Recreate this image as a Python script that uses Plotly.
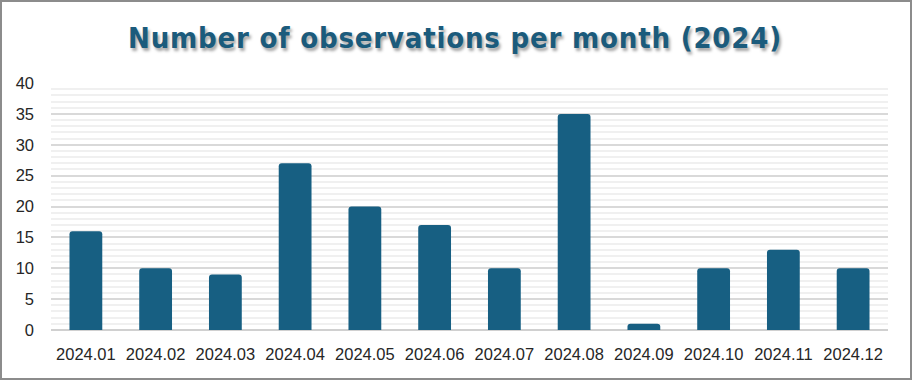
import plotly.graph_objects as go

months = ["2024.01", "2024.02", "2024.03", "2024.04", "2024.05", "2024.06",
          "2024.07", "2024.08", "2024.09", "2024.10", "2024.11", "2024.12"]
observations = [16, 10, 9, 27, 20, 17, 10, 35, 1, 10, 13, 10]
y_ticks = [0, 5, 10, 15, 20, 25, 30, 35, 40]

W, H = 912, 380
ml, mr, mt, mb = 51, 24, 83, 50
pw, ph = W - ml - mr, H - mt - mb

fig = go.Figure(go.Bar(
    x=months, y=observations,
    marker=dict(color="#175f82", line=dict(width=0)),
    width=0.47,
    hoverinfo="x+y",
))

tick_font = dict(family="Liberation Sans, Arial, sans-serif", size=16.5, color="#262626")

fig.update_layout(
    width=W, height=H,
    margin=dict(l=ml, r=mr, t=mt, b=mb, autoexpand=False),
    paper_bgcolor="white", plot_bgcolor="white",
    barcornerradius=3,
    showlegend=False,
    title=dict(
        text="<b>Number of observations per month (2024)</b>",
        x=455 / W, xref="container", xanchor="center",
        y=1 - 38 / H, yref="container", yanchor="middle",
        font=dict(family="DejaVu Sans Condensed, Liberation Sans Narrow, sans-serif", size=29,
                  color="#1b5b7c", shadow="2px 3px 3px rgba(0,0,0,0.35)"),
    ),
    xaxis=dict(
        type="category",
        showgrid=False, zeroline=False, showline=False,
        ticks="", ticklabelstandoff=12, automargin=False,
        tickfont=tick_font,
    ),
    yaxis=dict(
        range=[0, 40], tickvals=y_ticks,
        showgrid=True, gridcolor="#d9d9d9", gridwidth=1.5,
        minor=dict(dtick=1, showgrid=True, gridcolor="#f0f0f0", gridwidth=2),
        zeroline=True, zerolinecolor="#d0d0d0", zerolinewidth=1.5,
        showline=False, ticks="", ticklabelstandoff=16, automargin=False,
        tickfont=tick_font,
    ),
    shapes=[dict(
        type="rect", xref="paper", yref="paper",
        x0=-(ml - 1) / pw, x1=1 + (mr - 1) / pw,
        y0=-(mb - 1) / ph, y1=1 + (mt - 1) / ph,
        line=dict(color="#8c8c8c", width=2), fillcolor="rgba(0,0,0,0)",
        layer="above",
    )],
)

post = """
document.body.style.margin = '0';
document.body.style.padding = '0';
var t = document.querySelector('.gtitle');
if (t) { t.style.letterSpacing = '0.8px'; }
"""

fig.write_html("out.html", post_script=post, config={"displayModeBar": False})
